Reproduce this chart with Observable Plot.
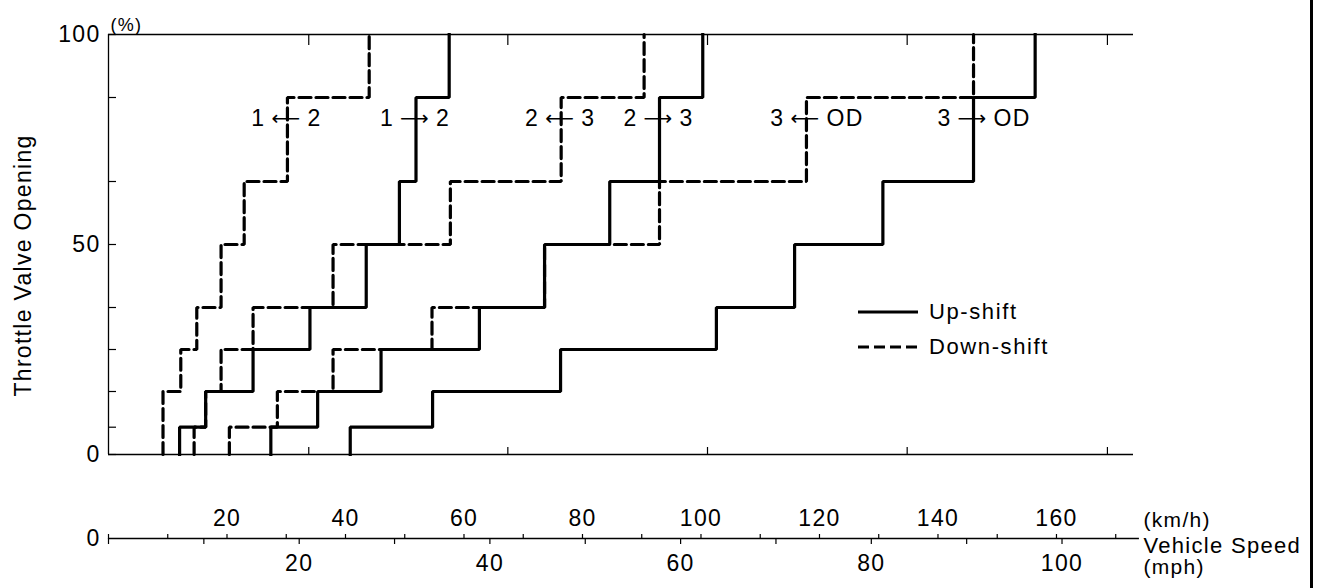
<!DOCTYPE html>
<html>
<head>
<meta charset="utf-8">
<script src="https://cdn.jsdelivr.net/npm/d3@7"></script>
<script src="https://cdn.jsdelivr.net/npm/@observablehq/plot@0.6"></script>
<style>
  body { margin: 0; background: #fff; }
  #chart { position: relative; width: 1320px; height: 588px; background: #fff;
           font-family: "Liberation Sans", Arial, sans-serif; color: #000; }
  #chart svg { display: block; overflow: visible; }
  #chart svg text { letter-spacing: 1.3px; }
  .border { position: absolute; left: 1310px; top: 0; width: 3px; height: 588px; background: #000; }
  .legend { position: absolute; left: 858px; top: 294px; font-size: 22px; letter-spacing: 1.6px; }
  .legend .row { display: flex; align-items: center; height: 35px; }
  .legend svg { margin-right: 11px; }
</style>
</head>
<body>
<div id="chart">
  <div id="main"></div>
  <div id="speed"></div>
  <div class="legend">
    <div class="row"><svg width="60" height="6"><line x1="0" x2="60" y1="3" y2="3" stroke="#000" stroke-width="3.2"/></svg><span>Up-shift</span></div>
    <div class="row"><svg width="60" height="6"><line x1="0" x2="60" y1="3" y2="3" stroke="#000" stroke-width="3.2" stroke-dasharray="11,5"/></svg><span>Down-shift</span></div>
  </div>
  <div class="border"></div>
</div>
<script>
// ---- Data (vehicle speed in km/h, throttle opening in %) ----
const kmPerMile = 1.609344;
const levelsFull   = [0, 6.5, 15, 25, 35, 50, 65, 85, 100];
const levelsDown12 = [0, 15, 25, 35, 50, 65, 85, 100];

// speed (km/h) at which each throttle step changes
const down12  = [9.2, 12.2, 14.9, 19.0, 22.9, 30.2, 44.0];
const up12    = [12.0, 16.4, 24.4, 34.0, 43.5, 49.1, 51.9, 57.5];
const down23  = [14.45, 16.4, 19.0, 24.4, 37.9, 57.7, 76.4, 90.4];
const up23    = [27.4, 35.3, 46.0, 62.6, 73.6, 84.6, 93.0, 100.3];
const down3od = [20.4, 28.5, 37.9, 54.6, 73.6, 93.0, 117.8, 146.0];
const up3od   = [40.8, 54.7, 76.3, 102.6, 115.8, 130.7, 146.0, 156.4];

const shiftFrom = ["1", "1", "2", "2", "3", "3"];
const shiftTo   = ["2", "2", "3", "3", "OD", "OD"];
const shiftType = ["down", "up", "down", "up", "down", "up"];
const shiftSpeeds = [down12, up12, down23, up23, down3od, up3od];
const shiftLevels = [levelsDown12, levelsFull, levelsFull, levelsFull, levelsFull, levelsFull];

const yTicks = [0, 6.5, 15, 25, 35, 50, 65, 85, 100];
const yLabels = [0, 50, 100];
const frameTicks = [33.8, 67.4, 101.1, 134.8, 168.6]; // unlabelled reference ticks
const kmhTicks = d3.range(0, 171, 10);
const mphTicks = d3.range(0, 101, 10);
const labelLevel = 80;
const xDomain = [0, 173];

// ---- build ----
const curves = shiftFrom.map((f, i) => ({
  name: f + shiftTo[i] + shiftType[i], from: f, to: shiftTo[i], type: shiftType[i],
  speeds: shiftSpeeds[i], levels: shiftLevels[i]
}));
const points = [];
curves.forEach(c => {
  c.speeds.forEach((s, i) => {
    points.push({curve: c.name, type: c.type, x: s, y: c.levels[i]});
    points.push({curve: c.name, type: c.type, x: s, y: c.levels[i + 1]});
  });
});
const labels = curves.map(c => ({
  x: c.speeds[c.levels.indexOf(65)], from: c.from, to: c.to,
  arrow: c.type === "up" ? "⟶" : "⟵"
}));

const font = "Liberation Sans, Arial, sans-serif";

const main = Plot.plot({
  width: 1320, height: 470,
  marginLeft: 108, marginRight: 187, marginTop: 34, marginBottom: 16,
  x: {domain: xDomain},
  y: {domain: [0, 100]},
  style: {fontFamily: font, fontSize: "22px", color: "#000", background: "#fff", overflow: "visible"},
  marks: [
    Plot.ruleY([0, 100], {stroke: "#000", strokeWidth: 1.6}),
    Plot.ruleX([0], {stroke: "#000", strokeWidth: 1.3}),
    Plot.axisY({ticks: yTicks, tickSize: 8, dx: 8, tickFormat: () => "", strokeWidth: 1.2, label: null}),
    Plot.axisY({ticks: yLabels, tickSize: 0, tickPadding: 8, fontSize: 23, label: null}),
    Plot.axisX({anchor: "bottom", ticks: frameTicks, tickSize: 7, dy: -7, tickFormat: () => "", strokeWidth: 1.2, label: null}),
    Plot.axisX({anchor: "top", ticks: frameTicks, tickSize: 10, dy: 10, tickFormat: () => "", strokeWidth: 1.2, label: null}),
    Plot.text(["(%)"], {frameAnchor: "top-left", textAnchor: "start", dx: 2, dy: -16, fontSize: 18}),
    Plot.text(["Throttle Valve Opening"], {frameAnchor: "left", textAnchor: "middle", rotate: -90, dx: -85, dy: 21, fontSize: 23}),
    Plot.line(points.filter(d => d.type === "up"), {x: "x", y: "y", z: "curve", stroke: "#000", strokeWidth: 3.2, strokeLinejoin: "miter", strokeLinecap: "square"}),
    Plot.line(points.filter(d => d.type === "down"), {x: "x", y: "y", z: "curve", stroke: "#000", strokeWidth: 3.2, strokeDasharray: "12,5", strokeLinejoin: "miter"}),
    Plot.text(labels, {x: "x", y: labelLevel, text: "from", textAnchor: "end", dx: -22, fontSize: 23}),
    Plot.text(labels, {x: "x", y: labelLevel, text: "to", textAnchor: "start", dx: 20, fontSize: 23}),
    Plot.text(labels, {x: "x", y: labelLevel, text: "arrow", dx: -1, fontSize: 20, fontFamily: "DejaVu Sans"})
  ]
});
document.getElementById("main").appendChild(main);

const speed = Plot.plot({
  width: 1320, height: 118,
  marginLeft: 108, marginRight: 187, marginTop: 68, marginBottom: 50,
  x: {domain: xDomain},
  style: {fontFamily: font, fontSize: "22px", color: "#000", background: "#fff", overflow: "visible"},
  marks: [
    Plot.ruleY([0], {x1: 0, x2: 174, stroke: "#000", strokeWidth: 1.6}),
    Plot.axisX({anchor: "top", ticks: kmhTicks, tickSize: 5, tickPadding: 8, label: null, fontSize: 23,
      tickFormat: d => (d > 0 && d % 20 === 0) ? String(d) : "", strokeWidth: 1.2}),
    Plot.axisX({anchor: "bottom", ticks: mphTicks.map(m => m * kmPerMile), tickSize: 6, tickPadding: 10, label: null, fontSize: 23,
      tickFormat: d => { const m = Math.round(d / kmPerMile); return (m > 0 && m % 20 === 0) ? String(m) : ""; }, strokeWidth: 1.2}),
    Plot.text([0], {x: d => d, text: d => String(d), textAnchor: "end", dx: -8, fontSize: 23}),
    Plot.text(["(km/h)"], {frameAnchor: "right", textAnchor: "start", dx: 10, dy: -18, fontSize: 21}),
    Plot.text(["Vehicle Speed"], {frameAnchor: "right", textAnchor: "start", dx: 10, dy: 7, fontSize: 22}),
    Plot.text(["(mph)"], {frameAnchor: "right", textAnchor: "start", dx: 10, dy: 29, fontSize: 21})
  ]
});
document.getElementById("speed").appendChild(speed);
</script>
</body>
</html>
